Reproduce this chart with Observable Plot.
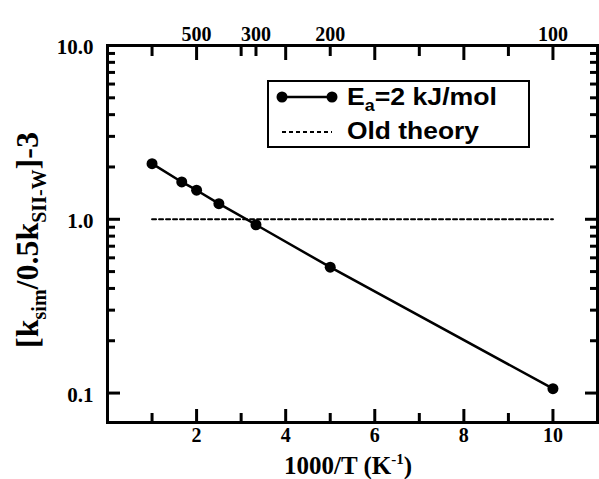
<!DOCTYPE html>
<html><head><meta charset="utf-8">
<script src="https://cdn.jsdelivr.net/npm/d3@7"></script>
<script src="https://cdn.jsdelivr.net/npm/@observablehq/plot@0.6"></script>
<style>body{margin:0;background:#fff} svg{display:block}</style>
</head><body><div id="chart"></div>
<script>
// data
const invT = [1, 1.667, 2, 2.5, 3.333, 5, 10];
const ratio = [2.09, 1.64, 1.47, 1.23, 0.93, 0.53, 0.106];
const oldTheoryX = [1, 10];
const oldTheoryY = [1, 1];
// ticks
const xTicksMajor = [2, 4, 6, 8, 10];
const xTicksMinor = [1, 3, 5, 7, 9];
const topTempLabels = [500, 300, 200, 100];
const topExtraMinor = [1000 / 300];
const yTicksMajor = [0.1, 1, 10];
const yTicksMinor = [0.2, 0.3, 0.4, 0.5, 0.6, 0.7, 0.8, 0.9, 2, 3, 4, 5, 6, 7, 8, 9];

const W = 599, H = 479;
const mt = 45, mb = 57, ml = 107, mr = 2;
const serif = "'Liberation Serif','Times New Roman',serif";
const sans = "'Liberation Sans',Arial,sans-serif";

const sim = invT.map((x, i) => ({x, y: ratio[i]}));
const old = oldTheoryX.map((x, i) => ({x, y: oldTheoryY[i]}));
const noText = () => "";
const ax = (data, anchor, size, shift) => {
  const o = {anchor, tickSize: size, tickFormat: noText, label: null, stroke: "#000", strokeWidth: 3, strokeLinecap: "butt"};
  if (anchor === "bottom") o.dy = -size;
  if (anchor === "top") o.dy = size;
  if (anchor === "left") o.dx = size;
  if (anchor === "right") o.dx = -size;
  return (anchor === "bottom" || anchor === "top") ? Plot.axisX(data, o) : Plot.axisY(data, o);
};

const svg = Plot.plot({
  width: W, height: H,
  marginTop: mt, marginBottom: mb, marginLeft: ml, marginRight: mr,
  style: {background: "#fff", overflow: "visible"},
  x: {domain: [0, 11], axis: null},
  y: {type: "log", domain: [0.0677, 10], axis: null},
  marks: [
    Plot.frame({stroke: "#000", fill: "none", strokeWidth: 3}),
    ax(xTicksMajor, "bottom", 13),
    ax(xTicksMinor, "bottom", 9),
    ax(xTicksMajor, "top", 14),
    ax(xTicksMinor.concat(topExtraMinor), "top", 10),
    ax(yTicksMajor, "left", 13),
    ax(yTicksMinor, "left", 8),
    ax(yTicksMajor, "right", 13),
    ax(yTicksMinor, "right", 8),
    // old theory
    Plot.line(old, {x: "x", y: "y", stroke: "#000", strokeWidth: 2, strokeDasharray: "4,3"}),
    // simulation
    Plot.line(sim, {x: "x", y: "y", stroke: "#000", strokeWidth: 2.5}),
    Plot.dot(sim, {x: "x", y: "y", r: 5.5, fill: "#000", stroke: "none"}),
    // tick labels
    Plot.text(xTicksMajor, {x: d => d, frameAnchor: "bottom", dy: 19, text: d => String(d),
      fontFamily: serif, fontWeight: "bold", fontSize: 20, fill: "#000"}),
    Plot.text(topTempLabels, {x: d => 1000 / d, frameAnchor: "top", dy: -19, text: d => String(d),
      fontFamily: serif, fontWeight: "bold", fontSize: 20, fill: "#000"}),
    Plot.text(yTicksMajor, {y: d => d, frameAnchor: "left", dx: -14, dy: 2, textAnchor: "end",
      text: d => d.toFixed(1), fontFamily: serif, fontWeight: "bold", fontSize: 21, fill: "#000"})
  ]
});

const s = d3.select(svg);

// x title
const xt = s.append("text").attr("x", 348).attr("y", 474).attr("text-anchor", "middle")
  .attr("font-family", serif).attr("font-weight", "bold").attr("font-size", 25).attr("fill", "#000");
xt.append("tspan").text("1000/T (K");
xt.append("tspan").attr("dy", -10).attr("font-size", 15).text("-1");
xt.append("tspan").attr("dy", 10).text(")");

// y title
const yt = s.append("text").attr("transform", "translate(38,240) rotate(-90)").attr("text-anchor", "middle")
  .attr("font-family", serif).attr("font-weight", "bold").attr("font-size", 32).attr("fill", "#000");
yt.append("tspan").text("[k");
yt.append("tspan").attr("dy", 8).attr("font-size", 20).text("sim");
yt.append("tspan").attr("dy", -8).text("/0.5k");
yt.append("tspan").attr("dy", 8).attr("font-size", 20).text("SII-W");
yt.append("tspan").attr("dy", -8).text("]-3");

// legend
const lg = s.append("g").attr("text-anchor", "start");
lg.append("rect").attr("x", 268).attr("y", 81).attr("width", 261).attr("height", 66)
  .attr("fill", "#fff").attr("stroke", "#000").attr("stroke-width", 2);
lg.append("line").attr("x1", 282).attr("x2", 332).attr("y1", 97).attr("y2", 97)
  .attr("stroke", "#000").attr("stroke-width", 2.5);
[282, 332].forEach(cx => lg.append("circle").attr("cx", cx).attr("cy", 97).attr("r", 5.5).attr("fill", "#000"));
const l1 = lg.append("text").attr("x", 347).attr("y", 105).attr("text-anchor", "start").attr("font-family", sans)
  .attr("font-weight", "bold").attr("font-size", 24).attr("fill", "#000")
  .attr("textLength", 150).attr("lengthAdjust", "spacingAndGlyphs");
l1.append("tspan").text("E");
l1.append("tspan").attr("dy", 6).attr("font-size", 16).text("a");
l1.append("tspan").attr("dy", -6).text("=2 kJ/mol");
lg.append("line").attr("x1", 282).attr("x2", 332).attr("y1", 132).attr("y2", 132)
  .attr("stroke", "#000").attr("stroke-width", 2).attr("stroke-dasharray", "4,3");
lg.append("text").attr("x", 347).attr("y", 139).attr("text-anchor", "start").attr("font-family", sans)
  .attr("font-weight", "bold").attr("font-size", 24).attr("fill", "#000")
  .attr("textLength", 132).attr("lengthAdjust", "spacingAndGlyphs").text("Old theory");

document.getElementById("chart").appendChild(svg);
</script>
</body></html>
